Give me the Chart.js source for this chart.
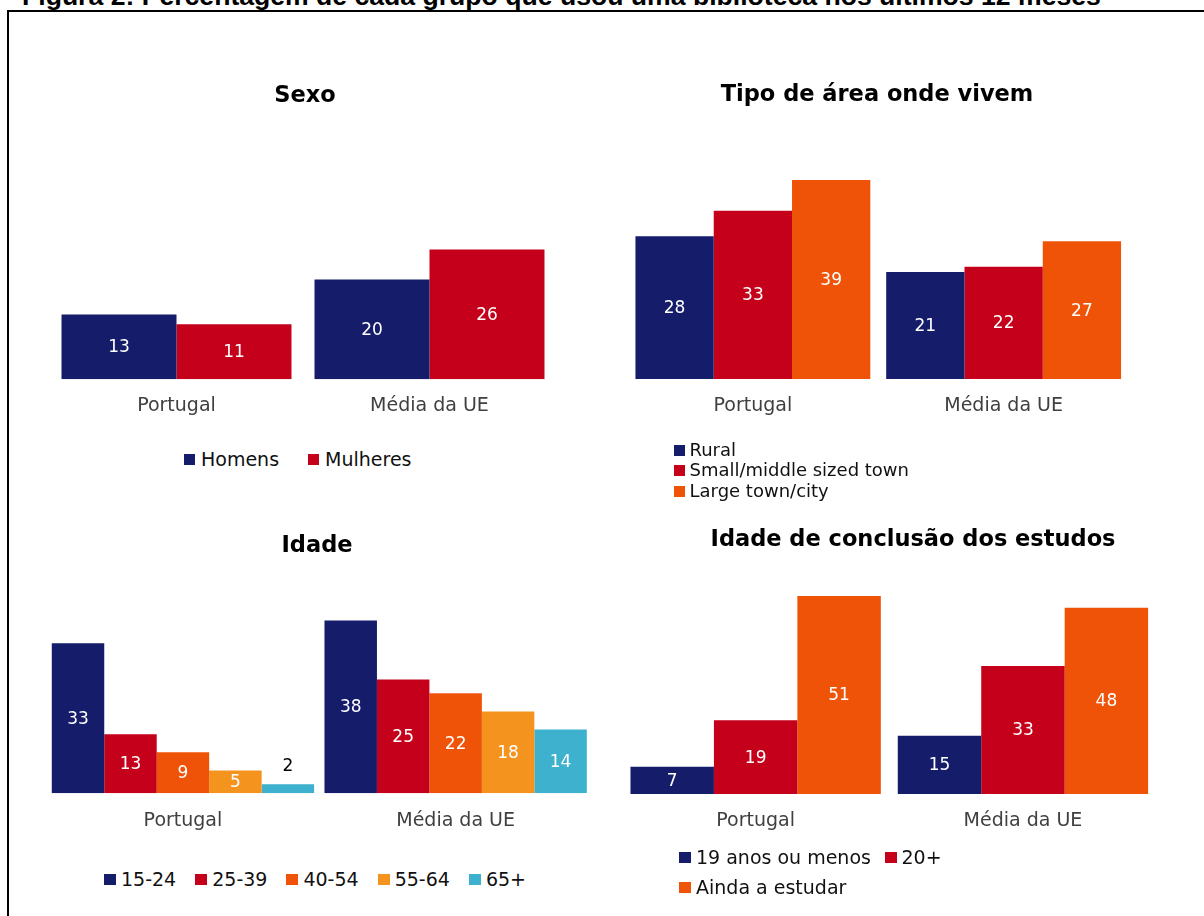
<!DOCTYPE html>
<html lang="pt">
<head>
<meta charset="utf-8">
<title>Figura 2: Percentagem de cada grupo que usou uma biblioteca nos últimos 12 meses</title>
<script src="https://cdn.jsdelivr.net/npm/chart.js@4.4.1/dist/chart.umd.min.js"></script>
<style>
  html, body { margin: 0; padding: 0; background: #fff; overflow: hidden; }
  body { width: 1204px; height: 916px; position: relative; font-family: "DejaVu Sans", Verdana, sans-serif; }
  #fig-title { position: absolute; left: 22px; top: -17.5px; font: bold 26.6px/26.6px "Liberation Sans", Arial, sans-serif; white-space: nowrap; color: #000; }
  #frame { position: absolute; left: 7px; top: 10px; width: 1300px; height: 1000px; border-left: 2px solid #000; border-top: 2px solid #000; }
  canvas { position: absolute; }
  .legend { position: absolute; margin: 0; padding: 0; list-style: none; display: flex; flex-wrap: wrap; color: #111; }
  .legend li { display: flex; align-items: center; white-space: nowrap; }
  .legend .box { display: inline-block; width: 11px; height: 11px; }
  #lgSexo { left: 184px; top: 447.5px; font-size: 19px; line-height: 23px; }
  #lgSexo li { margin-right: 29px; }
  #lgSexo .box { margin-right: 6px; }
  #lgArea { left: 674px; top: 439.75px; width: 320px; flex-direction: column; font-size: 18px; line-height: 20.5px; }
  #lgArea .box { margin-right: 4.5px; }
  #lgIdade { left: 104px; top: 867.8px; font-size: 19px; line-height: 23px; }
  #lgIdade li { margin-right: 19px; }
  #lgIdade .box { width: 12px; margin-right: 5px; }
  #lgEstudos { left: 679px; top: 841.75px; width: 290px; font-size: 19px; line-height: 30.5px; }
  #lgEstudos li { margin-right: 13.6px; }
  #lgEstudos .box { width: 12px; margin-right: 5px; }
</style>
</head>
<body>
<div id="fig-title">Figura 2: Percentagem de cada grupo que usou uma biblioteca nos últimos 12 meses</div>
<div id="frame"></div>

<canvas id="cSexo" width="510" height="374" style="left:50px;top:60px"></canvas>
<canvas id="cArea" width="504" height="374" style="left:625px;top:60px"></canvas>
<canvas id="cIdade" width="550" height="350" style="left:42px;top:500px"></canvas>
<canvas id="cEstudos" width="582" height="349" style="left:622px;top:500px"></canvas>

<ul class="legend" id="lgSexo"></ul>
<ul class="legend" id="lgArea"></ul>
<ul class="legend" id="lgIdade"></ul>
<ul class="legend" id="lgEstudos"></ul>

<script>
  // categorias (eixo x) comuns aos quatro gráficos
  const groups = ["Portugal", "Média da UE"];

  // Sexo
  const sexoNames = ["Homens", "Mulheres"];
  const sexoHomens = [13, 20];
  const sexoMulheres = [11, 26];

  // Tipo de área onde vivem
  const areaNames = ["Rural", "Small/middle sized town", "Large town/city"];
  const areaRural = [28, 21];
  const areaSmall = [33, 22];
  const areaLarge = [39, 27];

  // Idade
  const idadeNames = ["15-24", "25-39", "40-54", "55-64", "65+"];
  const idade1524 = [33, 38];
  const idade2539 = [13, 25];
  const idade4054 = [9, 22];
  const idade5564 = [5, 18];
  const idade65 = [2, 14];

  // Idade de conclusão dos estudos
  const estudosNames = ["19 anos ou menos", "20+", "Ainda a estudar"];
  const estudos19 = [7, 15];
  const estudos20 = [19, 33];
  const estudosAinda = [51, 48];

  const COLORS = {
    navy: "#151c6a",
    red: "#c5001a",
    orange: "#ef5308",
    amber: "#f5931f",
    teal: "#3db1cd"
  };

  const FONT = "'DejaVu Sans', Verdana, sans-serif";
  Chart.defaults.font.family = FONT;

  const valueLabelPlugin = {
    id: "valueLabels",
    afterDatasetsDraw(chart) {
      const { ctx } = chart;
      ctx.save();
      ctx.font = "17px " + FONT;
      ctx.textAlign = "center";
      ctx.textBaseline = "middle";
      chart.data.datasets.forEach((ds, i) => {
        chart.getDatasetMeta(i).data.forEach((bar, j) => {
          const text = String(ds.data[j]);
          const h = bar.base - bar.y;
          if (h >= 16) {
            ctx.fillStyle = "#fff";
            ctx.fillText(text, bar.x, bar.y + h / 2 + 1);
          } else {
            ctx.fillStyle = "#000";
            ctx.fillText(text, bar.x, bar.y - 18);
          }
        });
      });
      ctx.restore();
    }
  };

  // legenda em HTML, construída a partir dos datasets
  const htmlLegendPlugin = {
    id: "htmlLegend",
    afterUpdate(chart, args, options) {
      const list = document.getElementById(options.containerID);
      if (!list) return;
      list.innerHTML = "";
      chart.data.datasets.forEach((ds) => {
        const li = document.createElement("li");
        const box = document.createElement("span");
        box.className = "box";
        box.style.background = ds.backgroundColor;
        li.appendChild(box);
        li.appendChild(document.createTextNode(ds.label));
        list.appendChild(li);
      });
    }
  };

  // the hidden y axis only reserves a margin, so the title centre can sit off the plot centre
  function renderBars(canvasId, legendId, title, names, series, colors, cfg) {
    const canvas = document.getElementById(canvasId);
    if (!canvas) return;

    new Chart(canvas, {
      type: "bar",
      data: {
        labels: groups,
        datasets: names.map((name, i) => ({
          label: name,
          data: series[i],
          backgroundColor: colors[i],
          borderWidth: 0,
          barPercentage: 1,
          categoryPercentage: cfg.catPct
        }))
      },
      options: {
        responsive: false,
        animation: false,
        events: [],
        layout: {
          padding: { left: 0, right: 0, top: 0, bottom: cfg.padB }
        },
        plugins: {
          title: {
            display: true,
            text: title,
            color: "#000",
            font: { size: 22.5, weight: "bold" },
            padding: { top: cfg.titleTop, bottom: cfg.titleBottom }
          },
          legend: { display: false },
          tooltip: { enabled: false },
          htmlLegend: { containerID: legendId }
        },
        scales: {
          x: {
            grid: { display: false, drawTicks: false },
            border: { display: false },
            ticks: { color: "#404040", font: { size: 19 }, padding: cfg.tickPad }
          },
          y: {
            position: cfg.yPos,
            min: 0,
            max: cfg.max,
            grid: { display: false, drawTicks: false },
            border: { display: false },
            ticks: { display: false },
            afterFit(scale) {
              scale.width = cfg.yWidth;
            }
          }
        }
      },
      plugins: [valueLabelPlugin, htmlLegendPlugin]
    });
  }

  renderBars("cSexo", "lgSexo", "Sexo", sexoNames,
    [sexoHomens, sexoMulheres],
    [COLORS.navy, COLORS.red],
    { catPct: 0.909, yPos: "right", yWidth: 4, padB: 0.3, titleTop: 22.5, titleBottom: 45.1, tickPad: 15.8, max: 45 });

  renderBars("cArea", "lgArea", "Tipo de área onde vivem", areaNames,
    [areaRural, areaSmall, areaLarge],
    [COLORS.navy, COLORS.red, COLORS.orange],
    { catPct: 0.9366, yPos: "left", yWidth: 2.5, padB: 0, titleTop: 22, titleBottom: 40.5, tickPad: 16.1, max: 45 });

  renderBars("cIdade", "lgIdade", "Idade", idadeNames,
    [idade1524, idade2539, idade4054, idade5564, idade65],
    [COLORS.navy, COLORS.red, COLORS.orange, COLORS.amber, COLORS.teal],
    { catPct: 0.962, yPos: "left", yWidth: 4.6, padB: 0.3, titleTop: 33, titleBottom: 28.55, tickPad: 16.8, max: 45 });

  renderBars("cEstudos", "lgEstudos", "Idade de conclusão dos estudos", estudosNames,
    [estudos19, estudos20, estudosAinda],
    [COLORS.navy, COLORS.red, COLORS.orange],
    { catPct: 0.9366, yPos: "right", yWidth: 47.4, padB: 0, titleTop: 27, titleBottom: 7.2, tickPad: 16.1, max: 60 });
</script>
</body>
</html>
